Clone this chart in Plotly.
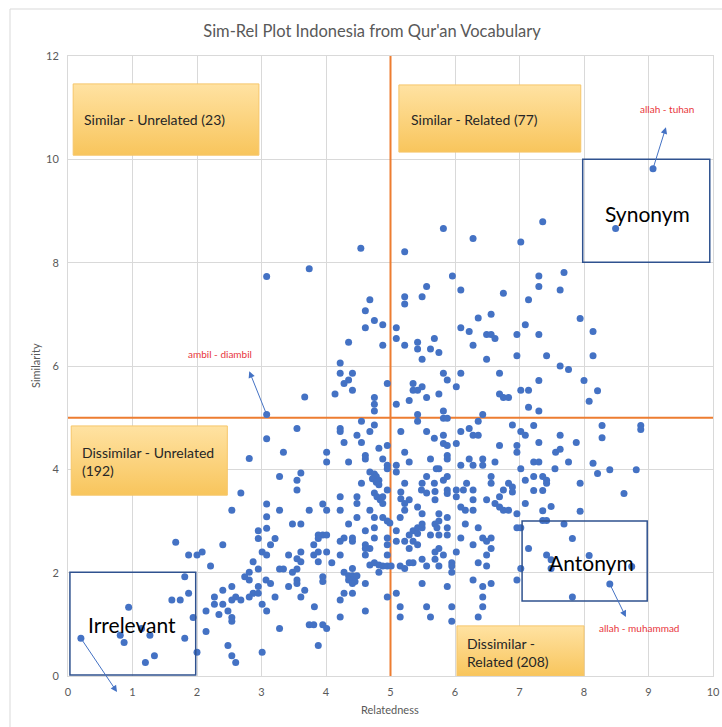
import plotly.graph_objects as go

# ---------------- data (relatedness, similarity) ----------------
pts_top = [(9.07,9.82),(8.49,8.66),(7.36,8.79),(5.82,8.66),(6.28,8.47),(7.02,8.40),(4.54,8.28),(5.22,8.21),
           (3.08,7.73),(3.74,7.88)]

pts_upper_mid = [(5.96,7.74),(5.56,7.54),(6.09,7.47),(6.75,7.41),(5.22,7.34),(5.22,7.20),(5.49,7.34),(4.68,7.28),
    (4.61,7.07),(7.14,7.28),(6.36,6.93),(6.56,7.00),(4.75,6.88),(4.88,6.80),(4.61,6.74),(5.09,6.74),(5.09,6.53),
    (6.09,6.74),(6.22,6.67),(7.09,6.80),(6.49,6.61),(6.56,6.61),(6.62,6.53),(6.96,6.61),(5.68,6.53),(4.35,6.46),
    (4.88,6.40),(5.22,6.40),(5.42,6.46),(5.42,6.33),(5.62,6.33),(5.75,6.26),(6.28,6.40),(5.49,6.13),(6.49,6.13),
    (6.96,6.20),(4.22,6.06),(4.22,5.86),(4.41,5.86),(4.35,5.73),(4.28,5.66),(4.41,5.53),(4.14,5.46),(4.95,5.66),
    (4.75,5.39),(4.75,5.26),(4.75,5.13),(5.09,5.26),(5.29,5.33),(5.35,5.66),(5.35,5.53),(5.42,5.53),(5.49,5.60),
    (5.56,5.39),(5.75,5.46),(5.82,5.86),(5.88,5.73),(6.09,5.86),(6.02,5.60),(6.69,5.86),(6.69,5.46),(6.75,5.39),
    (6.83,5.39),(7.02,5.53),(7.14,5.53),(7.14,5.20),(5.82,5.13),(5.42,5.06),(5.82,4.99),(5.88,4.99),(6.43,5.06),
    (4.55,4.93),(5.42,4.93),(6.36,4.93),(4.22,4.79),(4.22,4.73),(4.68,4.73),(4.75,4.86),(4.48,4.66),(5.16,4.73),
    (5.56,4.73),(6.09,4.73),(6.22,4.79),(6.28,4.66),(6.36,4.66),(6.89,4.86),(7.02,4.73),(7.09,4.66),(5.68,4.60),
    (5.82,4.66)]

pts_upper_right = [(7.30,7.74),(7.30,7.54),(7.69,7.81),(7.63,7.47),(7.94,6.92),(7.30,6.61),(8.14,6.67),(7.42,6.20),
    (8.14,6.20),(7.63,6.00),(7.76,5.93),(7.30,5.72),(8.00,5.72),(8.21,5.52),(8.08,5.32),(7.30,5.13),(7.22,4.85),
    (8.28,4.85),(8.88,4.85),(8.88,4.77),(7.63,4.66),(8.28,4.61)]

pts_left = [(3.67,5.40),(3.08,5.06),(3.55,4.79),(3.08,4.59),(3.34,4.33),(2.81,4.21),(4.01,4.33),(4.01,4.14),
    (3.28,3.86),(3.55,3.79),(3.61,3.93),(3.55,3.60),(2.68,3.54),(2.54,3.21),(3.08,3.33),(3.28,3.21),(3.74,3.21),
    (3.95,3.33),(4.01,3.21),(3.08,3.08),(3.48,2.94),(3.61,2.94),(3.08,2.86),(2.95,2.81),(2.95,2.66),(3.21,2.66),
    (3.14,2.54),(1.67,2.59),(2.40,2.54),(1.87,2.34),(2.00,2.34),(2.08,2.40),(2.21,2.13),(2.87,2.21),(3.01,2.40),
    (3.08,2.34),(2.95,2.07),(2.81,2.01),(2.74,1.92),(2.81,1.86),(3.42,2.34),(3.55,2.27),(3.61,2.40),(3.61,2.21),
    (3.28,2.07),(3.34,2.07),(3.48,2.01),(3.55,2.07),(3.55,1.86),(3.55,1.79),(3.07,1.86),(3.14,1.79),(3.42,1.73),
    (3.81,2.54),(3.88,2.73),(3.95,2.73),(4.01,2.73),(3.88,2.66),(3.81,2.34),(3.88,2.40),(4.01,2.40),(3.88,2.21),
    (3.95,1.92),(3.95,1.83),(3.67,1.66),(3.61,1.53),(2.95,1.73),(2.87,1.60),(2.81,1.53),(2.95,1.60),(3.21,1.53),
    (2.68,1.47),(2.60,1.53),(2.54,1.47),(2.54,1.73),(2.40,1.66),(2.27,1.53),(2.27,1.39),(2.40,1.39),(2.48,1.26),
    (2.34,1.19),(2.54,1.13),(2.54,1.06),(2.14,1.26),(3.01,1.39),(3.08,1.26),(1.81,1.92),(1.87,1.60),(1.61,1.47),
    (1.74,1.47),(0.94,1.33),(1.94,1.13),(2.14,0.86),(1.81,0.73),(0.81,0.79),(0.87,0.65),(1.27,0.79),(1.14,0.92),
    (0.20,0.73),(1.34,0.39),(1.20,0.26),(2.00,0.46),(3.28,0.92),(3.74,0.99),(3.81,0.99),(3.95,0.99),(4.01,0.92),
    (3.88,0.59),(2.48,0.59),(2.54,0.39),(2.60,0.26),(3.01,0.46),(3.82,1.34)]

pts_center = [(4.28,4.52),(4.55,4.52),(4.82,4.41),(4.95,4.46),(5.82,4.50),(5.88,4.46),(6.02,4.50),(6.69,4.46),
    (6.96,4.46),(6.96,4.33),(4.35,4.14),(4.61,4.27),(4.61,4.20),(4.88,4.20),(4.95,4.08),(4.95,4.01),(5.09,4.08),
    (5.09,3.95),(5.29,4.14),(5.22,4.33),(5.62,4.20),(5.88,4.27),(5.88,4.20),(5.71,4.01),(5.75,4.01),(6.09,4.08),
    (6.22,4.20),(6.28,4.08),(6.43,4.08),(6.43,4.20),(6.62,4.14),(7.02,4.01),(4.68,3.95),(4.75,3.91),(4.78,3.86),
    (4.82,3.79),(4.72,3.82),(4.78,3.75),(4.55,3.73),(4.82,3.70),(5.22,3.73),(5.16,3.56),(5.16,3.43),(5.49,3.73),
    (5.56,3.86),(5.68,3.73),(5.82,3.79),(5.88,3.86),(5.88,3.60),(5.88,3.53),(6.02,3.60),(6.02,3.47),(6.18,3.73),
    (6.28,3.60),(6.56,3.86),(6.56,3.73),(6.83,3.73),(6.89,3.66),(6.89,3.56),(6.75,3.60),(7.09,3.79),(4.22,3.47),
    (4.48,3.47),(4.48,3.34),(4.95,3.60),(4.75,3.54),(4.79,3.47),(4.84,3.41),(4.88,3.47),(5.29,3.41),(5.48,3.60),
    (5.56,3.54),(5.69,3.57),(5.69,3.41),(6.13,3.60),(6.28,3.41),(6.49,3.41),(6.62,3.34),(6.69,3.47),(7.09,3.34),
    (4.22,3.21),(4.68,3.21),(4.88,3.34),(5.22,3.34),(5.22,3.21),(5.42,3.27),(6.09,3.27),(6.16,3.21),(6.28,3.21),
    (6.69,3.27),(6.75,3.21),(6.83,3.21),(6.96,3.14),(4.48,3.07),(4.75,3.07),(4.88,3.07),(4.95,3.00),(4.99,2.96),
    (5.15,3.07),(5.49,3.14),(5.75,3.14),(5.88,3.07),(4.35,2.94),(4.61,2.81),(4.75,2.87),(5.09,2.81),(5.35,2.81),
    (5.42,2.87),(5.42,2.76),(5.49,2.87),(5.49,2.94),(5.69,2.94),(5.72,2.87),(5.75,3.00),(5.88,2.87),(6.16,2.94),
    (6.36,2.87),(6.96,2.87),(7.02,2.87),(4.28,2.67),(4.22,2.61),(4.41,2.67),(4.41,2.61),(4.75,2.67),(4.95,2.67),
    (5.09,2.61),(5.29,2.73),(5.22,2.61),(5.35,2.61),(5.62,2.73),(5.75,2.73),(5.88,2.73),(6.09,2.67),(6.43,2.67),
    (6.49,2.61),(6.56,2.67),(4.61,2.54),(4.61,2.47),(4.68,2.47),(4.95,2.54),(5.29,2.47),(5.42,2.54),(5.75,2.47),
    (6.28,2.54),(6.56,2.47),(7.14,2.47),(4.22,2.34),(4.61,2.34),(4.95,2.34),(5.69,2.40),(5.82,2.34),(6.02,2.40),
    (6.49,2.34),(4.09,2.19),(4.68,2.15),(4.75,2.19),(4.82,2.15),(4.88,2.13),(4.95,2.13),(5.01,2.13),(4.82,2.01),
    (5.15,2.13),(5.22,2.08),(5.29,2.19),(5.35,2.19),(5.49,2.26),(5.56,2.13),(5.69,2.26),(5.75,2.13),(5.95,2.19),
    (5.95,2.13),(5.95,2.01),(6.36,2.19),(6.49,2.13),(7.02,2.08),(4.28,2.01),(4.35,1.94),(4.41,1.94),(4.41,1.86),
    (4.45,1.83),(4.35,1.86),(4.48,1.94),(4.41,1.79),(4.41,2.08),(4.61,1.79),(5.49,1.79),(5.88,1.73),(6.28,1.86),
    (6.43,1.73),(6.56,1.79),(6.96,1.86),(5.09,1.60),(4.95,1.53),(4.28,1.60),(4.41,1.60),(4.22,1.47),(6.43,1.53),
    (6.43,1.34),(5.15,1.34),(5.56,1.34),(5.95,1.34),(4.61,1.26),(4.22,1.14),(5.15,1.14),(5.62,1.14),(5.95,1.06),
    (6.36,1.14)]

pts_lower_right = [(7.30,4.52),(7.88,4.52),(7.56,4.33),(7.63,4.39),(7.22,4.14),(7.30,4.14),(7.76,4.14),(8.14,4.12),
    (7.55,4.01),(8.21,3.92),(8.40,3.99),(8.81,3.99),(7.22,3.86),(7.36,3.86),(7.42,3.79),(7.42,3.73),(7.22,3.59),
    (7.36,3.59),(7.94,3.73),(8.62,3.53),(7.36,3.20),(7.49,3.28),(7.94,3.19),(7.36,3.01),(7.42,3.01),(7.69,2.94),
    (7.82,2.66),(7.42,2.34),(7.49,2.25),(7.49,2.08),(8.08,2.33),(8.74,2.12),(8.40,1.78),(7.82,1.53)]

all_pts = pts_top + pts_upper_mid + pts_upper_right + pts_left + pts_center + pts_lower_right
relatedness = [p[0] for p in all_pts]
similarity = [p[1] for p in all_pts]

title_text = "Sim-Rel Plot Indonesia from Qur'an Vocabulary"
x_title = "Relatedness"
y_title = "Similarity"

# quadrant label boxes: (text, x0, x1, y0, y1, text_x, text_y)
quad_boxes = [
    ("Similar - Unrelated (23)", 0.08, 2.96, 10.08, 11.46, 0.21, 10.78),
    ("Similar - Related (77)", 5.13, 7.95, 10.14, 11.44, 5.29, 10.78),
    ("Dissimilar - Unrelated<br>(192)", 0.05, 2.47, 3.50, 4.84, 0.19, 4.15),
    ("Dissimilar -<br>Related (208)", 6.03, 8.00, 0.0, 0.97, 6.15, 0.46),
]
# category outline boxes: (text, x0, x1, y0, y1, text_x, text_y)
cat_boxes = [
    ("Synonym", 7.98, 9.95, 8.01, 10.0, 8.98, 8.96),
    ("Antonym", 7.04, 8.98, 1.45, 3.0, 8.11, 2.19),
    ("Irrelevant", 0.03, 1.98, 0.02, 2.01, 0.99, 0.99),
]
# callouts: (label, point_x, point_y, head_x, head_y, label_x, label_y)
callouts = [
    ("allah - tuhan", 9.07, 9.82, 9.27, 10.62, 9.28, 10.98),
    ("ambil - diambil", 3.08, 5.06, 2.81, 5.90, 2.36, 6.24),
    ("dosa - sungai", 0.20, 0.73, 0.76, -0.31, 0.60, -0.45),
    ("allah - muhammad", 8.40, 1.78, 8.65, 1.14, 8.86, 0.93),
]

# ---------------- figure ----------------
W, H = 722, 727
L, R, T, B = 68, 9, 56, 51
FONT = "Lato, 'Open Sans', sans-serif"
GRAY = "#595959"
GRID = "#D9D9D9"
BLUE = "#4472C4"
ORANGE = "#ED7D31"

def paper_x(px):
    return (px - L) / (W - L - R)

def paper_y(py):
    return (H - B - py) / (H - T - B)

fig = go.Figure()
fig.add_trace(go.Scatter(
    x=relatedness, y=similarity, mode="markers",
    marker=dict(size=7, color=BLUE, line=dict(width=0)),
    showlegend=False, cliponaxis=False, hoverinfo="x+y",
))

shapes = []
# outer chart border
shapes.append(dict(type="rect", xref="paper", yref="paper",
                   x0=paper_x(10), x1=paper_x(760), y0=paper_y(770), y1=paper_y(9),
                   line=dict(color=GRID, width=1), fillcolor="rgba(0,0,0,0)", layer="below"))
# orange quadrant lines
shapes.append(dict(type="line", xref="x", yref="y", x0=5, x1=5, y0=0, y1=12,
                   line=dict(color=ORANGE, width=2), layer="between"))
shapes.append(dict(type="line", xref="x", yref="y", x0=0, x1=10, y0=5, y1=5,
                   line=dict(color=ORANGE, width=2), layer="between"))

annotations = []
for txt, x0, x1, y0, y1, tx, ty in quad_boxes:
    fig.add_trace(go.Scatter(
        x=[x0, x1, x1, x0, x0], y=[y0, y0, y1, y1, y0], mode="lines",
        fill="toself",
        fillgradient=dict(type="vertical", colorscale=[[0, "#F8C55C"], [1, "#FFE2A2"]]),
        line=dict(color="#F6C66A", width=1), hoverinfo="skip", showlegend=False,
        cliponaxis=False,
    ))
    annotations.append(dict(x=tx, y=ty, xref="x", yref="y", text=txt, showarrow=False,
                            xanchor="left", yanchor="middle", align="left",
                            font=dict(family=FONT, size=14, color="#262626")))

for txt, x0, x1, y0, y1, tx, ty in cat_boxes:
    shapes.append(dict(type="rect", xref="x", yref="y", x0=x0, x1=x1, y0=y0, y1=y1,
                       fillcolor="rgba(0,0,0,0)", line=dict(color="#2F528F", width=1.5), layer="above"))
    annotations.append(dict(x=tx, y=ty, xref="x", yref="y", text=txt, showarrow=False,
                            xanchor="center", yanchor="middle",
                            font=dict(family=FONT, size=21, color="#000000")))

for lab, px_, py_, hx, hy, lx, ly in callouts:
    annotations.append(dict(x=hx, y=hy, xref="x", yref="y", ax=px_, ay=py_, axref="x", ayref="y",
                            text="", showarrow=True, arrowhead=2, arrowsize=1.3, arrowwidth=1,
                            arrowcolor=BLUE, standoff=0, startstandoff=0))
    annotations.append(dict(x=lx, y=ly, xref="x", yref="y", text=lab, showarrow=False,
                            xanchor="center", yanchor="middle",
                            font=dict(family=FONT, size=10, color="#E8353B")))

# axis titles
annotations.append(dict(x=paper_x(390), y=paper_y(709), xref="paper", yref="paper", text=x_title,
                        showarrow=False, xanchor="center", yanchor="middle",
                        font=dict(family=FONT, size=11, color=GRAY)))
annotations.append(dict(x=paper_x(35), y=paper_y(366), xref="paper", yref="paper", text=y_title,
                        showarrow=False, xanchor="center", yanchor="middle", textangle=-90,
                        font=dict(family=FONT, size=11, color=GRAY)))

fig.update_layout(
    width=W, height=H,
    margin=dict(l=L, r=R, t=T, b=B, autoexpand=False),
    paper_bgcolor="white", plot_bgcolor="white",
    title=dict(text=title_text, x=372 / W, xanchor="center", y=1 - 31 / H, yanchor="middle",
               xref="container", yref="container",
               font=dict(family=FONT, size=16.5, color=GRAY)),
    xaxis=dict(range=[0, 10], dtick=1, tick0=0, showgrid=True, gridcolor=GRID, gridwidth=1,
               zeroline=False, showline=True, linecolor=GRID, mirror=True,
               ticks="", tickfont=dict(family=FONT, size=11, color=GRAY), ticklabelstandoff=6),
    yaxis=dict(range=[0, 12], dtick=2, tick0=0, showgrid=True, gridcolor=GRID, gridwidth=1,
               zeroline=False, showline=True, linecolor=GRID, mirror=True,
               ticks="", tickfont=dict(family=FONT, size=11, color=GRAY), ticklabelstandoff=6),
    shapes=shapes, annotations=annotations,
    font=dict(family=FONT),
    showlegend=False,
)

fig.write_html("out.html", config={"displayModeBar": False},
               post_script="document.documentElement.style.margin='0';document.body.style.margin='0';document.body.style.padding='0';")
